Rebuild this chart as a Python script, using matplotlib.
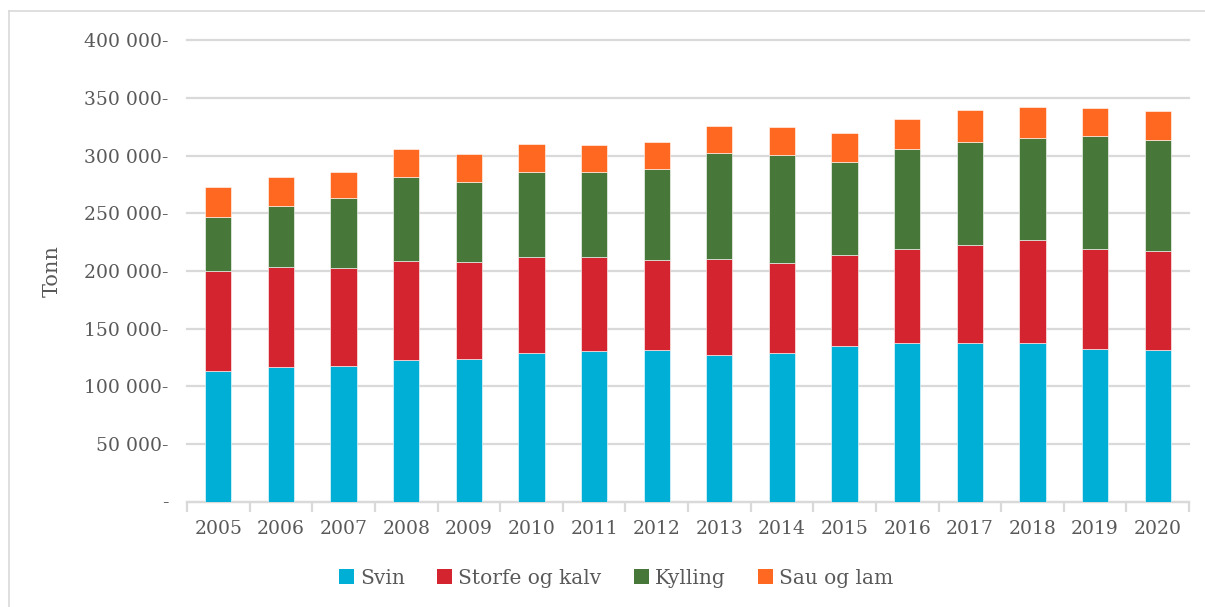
import matplotlib
matplotlib.use("Agg")
import matplotlib.pyplot as plt
from matplotlib.patches import Patch
from matplotlib.ticker import FuncFormatter, FixedLocator, MultipleLocator
from matplotlib.lines import Line2D
import numpy as np

years = ["2005", "2006", "2007", "2008", "2009", "2010", "2011", "2012",
         "2013", "2014", "2015", "2016", "2017", "2018", "2019", "2020"]
svin = [113000, 116500, 117600, 122500, 123400, 128900, 130600, 131200,
        127100, 128900, 134700, 137500, 137300, 137300, 132300, 131500]
storfe = [87000, 87200, 84700, 86300, 84600, 83200, 81500, 78000,
          83400, 78300, 79400, 81700, 84900, 89500, 86900, 85500]
kylling = [47000, 52800, 60900, 72800, 69300, 73900, 73900, 79400,
           91900, 93600, 80300, 86400, 89800, 89000, 97900, 96700]
sau = [26000, 25200, 23100, 24300, 24000, 24600, 23100, 23100,
       23400, 24300, 25700, 26000, 27500, 26900, 24000, 24900]

series_names = ["Svin", "Storfe og kalv", "Kylling", "Sau og lam"]
colors = ["#00AFD6", "#D42430", "#48773A", "#FF6820"]

text_color = "#595959"
grid_color = "#D9D9D9"
font = ["DejaVu Serif"]

fig = plt.figure(figsize=(12.05, 6.07), dpi=100)
ax = fig.add_axes([187 / 1205, 1 - 501.5 / 607, (1189 - 187) / 1205, (501.5 - 40.5) / 607])

x = np.arange(len(years))
bottom = np.zeros(len(years))
for vals, name, c in zip([svin, storfe, kylling, sau], series_names, colors):
    v = np.array(vals, dtype=float)
    ax.bar(x, v, width=0.42, bottom=bottom, color=c, label=name,
           edgecolor="white", linewidth=0.4, zorder=3)
    bottom += v

ax.set_xlim(-0.5, len(years) - 0.5)
ax.set_ylim(0, 400000)
ax.yaxis.set_major_locator(MultipleLocator(50000))


def fmt(v, pos):
    if v == 0:
        return "-"
    return f"{int(v):,}".replace(",", " ") + "-"


ax.yaxis.set_major_formatter(FuncFormatter(fmt))
ax.grid(axis="y", color=grid_color, linewidth=1.6, zorder=0)
for gl in ax.get_ygridlines():
    gl.set_clip_on(False)
ax.tick_params(axis="y", length=0, pad=13.5, labelsize=13.5, labelcolor=text_color)
for lbl in ax.get_yticklabels():
    lbl.set_family(font)

ax.set_xticks(x)
ax.set_xticklabels(years, family=font, fontsize=13.5, color=text_color)
ax.tick_params(axis="x", length=0, pad=13)
ax.xaxis.set_minor_locator(FixedLocator(np.arange(-0.5, len(years), 1.0)))
ax.tick_params(axis="x", which="minor", length=7, width=1.6, color=grid_color, direction="out")

for s in ["top", "right", "left"]:
    ax.spines[s].set_visible(False)
ax.spines["bottom"].set_color(grid_color)
ax.spines["bottom"].set_linewidth(1.6)

ax.set_ylabel("Tonn", family=font, fontsize=15, color=text_color)
ax.yaxis.set_label_coords(-0.125, 0.5)

handles = [Patch(facecolor=c, edgecolor="none") for c in colors]
leg = fig.legend(handles, series_names, loc="center", bbox_to_anchor=(616 / 1205, 1 - 578 / 607),
                 ncol=4, frameon=False, handlelength=0.75, handleheight=0.75,
                 handletextpad=0.3, columnspacing=1.6,
                 prop={"family": font, "size": 14.5})
for t in leg.get_texts():
    t.set_color(text_color)

# outer border (top and left visible)
fig.add_artist(Line2D([8.5 / 1205, 1.0], [1 - 11 / 607, 1 - 11 / 607], color=grid_color, linewidth=1.2,
                      transform=fig.transFigure))
fig.add_artist(Line2D([8.5 / 1205, 8.5 / 1205], [0.0, 1 - 11 / 607], color=grid_color, linewidth=1.2,
                      transform=fig.transFigure))

fig.savefig("out.png", dpi=100)
